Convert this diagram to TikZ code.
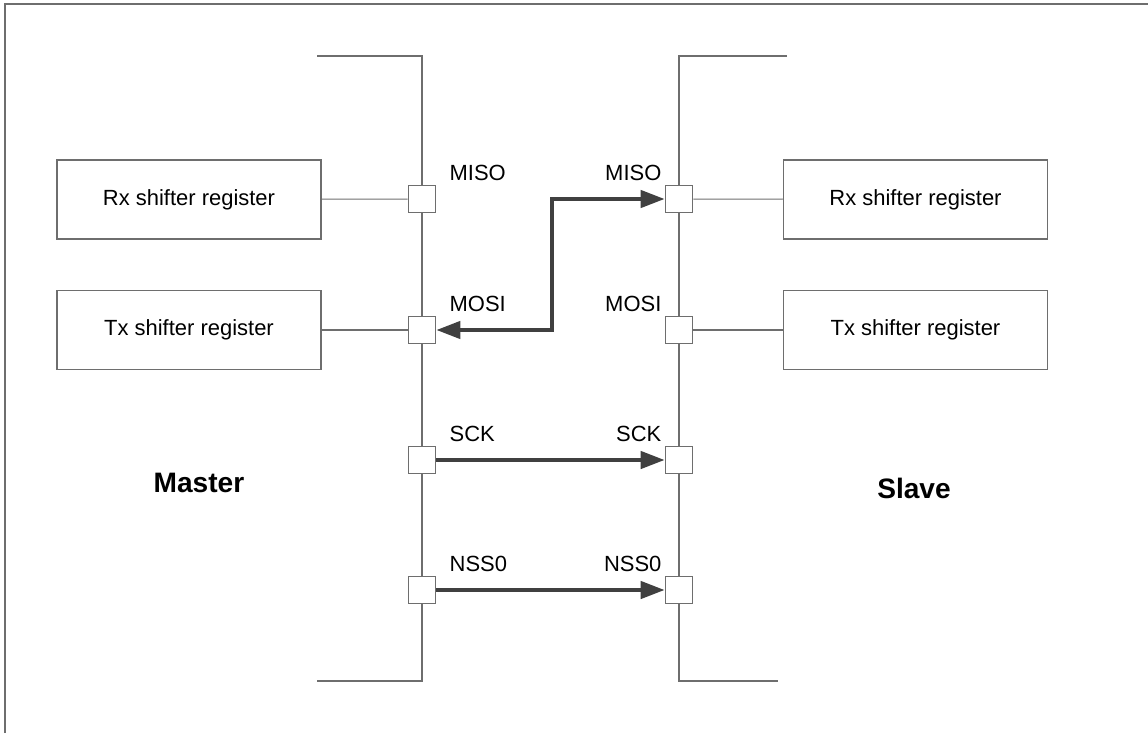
\documentclass[tikz,border=0pt]{standalone}
\usepackage{fontspec}
\setmainfont{Liberation Sans}
\usetikzlibrary{arrows.meta,positioning}
\definecolor{linegray}{HTML}{6E6E6E}
\definecolor{arrowgray}{HTML}{404040}
\begin{document}
\begin{tikzpicture}[x=0.02cm,y=-0.02cm,font=\fontsize{12.5}{15}\selectfont]
  \tikzset{
    frame/.style={draw=linegray,line width=1.1pt},
    bus/.style={draw=linegray,line width=1.1pt},
    reg/.style={draw=linegray,line width=0.9pt,fill=white,minimum width=5.28cm,
                minimum height=1.58cm,inner sep=0pt},
    port/.style={draw=linegray,line width=0.9pt,fill=white,minimum size=0.54cm,inner sep=0pt},
    link/.style={draw=linegray,line width=0.6pt},
    ar/.style={-{Triangle[length=0.48cm,width=0.34cm]},line width=2.4pt,draw=arrowgray},
    dar/.style={ar,{Triangle[length=0.48cm,width=0.34cm]}-{Triangle[length=0.48cm,width=0.34cm]}},
    pin/.style={inner sep=0pt},
    side/.style={font=\fontsize{16}{19}\selectfont\bfseries}
  }
  \useasboundingbox (0,0) rectangle (1148,733);
  \draw[frame] (5,733) -- (5,4) -- (1148,4);

  % buses
  \coordinate (mtop) at (317,56);
  \coordinate (mbot) at (317,681);
  \coordinate (stop) at (787,56);
  \coordinate (sbot) at (778,681);
  \draw[bus] (mtop) -- (422,56) -- (422,681) -- (mbot);
  \draw[bus] (stop) -- (679,56) -- (679,681) -- (sbot);

  % shift registers
  \node[reg] (mrx) at (189,199.5) {Rx shifter register};
  \node[reg] (mtx) at (189,330) {Tx shifter register};
  \node[reg] (srx) at (915.5,199.5) {Rx shifter register};
  \node[reg] (stx) at (915.5,330) {Tx shifter register};

  % master pins
  \node[port] (mmiso) at (422,199) {};
  \node[port] (mmosi) at (422,330) {};
  \node[port] (msck) at (422,460) {};
  \node[port] (mnss) at (422,590) {};
  % slave pins
  \node[port] (smiso) at (679,199) {};
  \node[port] (smosi) at (679,330) {};
  \node[port] (ssck) at (679,460) {};
  \node[port] (snss) at (679,590) {};

  \node[pin,anchor=base west,xshift=0.26cm,yshift=0.08cm] (lmmiso) at (mmiso.north east) {MISO};
  \node[pin,anchor=base west,xshift=0.26cm,yshift=0.08cm] (lmmosi) at (mmosi.north east) {MOSI};
  \node[pin,anchor=base west,xshift=0.26cm,yshift=0.08cm] (lmsck) at (msck.north east) {SCK};
  \node[pin,anchor=base west,xshift=0.26cm,yshift=0.08cm] (lmnss) at (mnss.north east) {NSS0};
  \node[pin,anchor=base east,xshift=-0.06cm,yshift=0.08cm] (lsmiso) at (smiso.north west) {MISO};
  \node[pin,anchor=base east,xshift=-0.06cm,yshift=0.08cm] (lsmosi) at (smosi.north west) {MOSI};
  \node[pin,anchor=base east,xshift=-0.06cm,yshift=0.08cm] (lssck) at (ssck.north west) {SCK};
  \node[pin,anchor=base east,xshift=-0.06cm,yshift=0.08cm] (lsnss) at (snss.north west) {NSS0};

  \node[side] (master) at (199,483) {Master};
  \node[side] (slave) at (914,488) {Slave};

  \draw[link] (mrx) -- (mmiso);
  \draw[link] (mtx) -- (mmosi);
  \draw[link] (smiso) -- (srx);
  \draw[link] (smosi) -- (stx);

  \coordinate (bend) at (552,330);
  \draw[dar] (mmosi) -- (bend) |- (smiso);
  \draw[ar] (msck) -- (ssck);
  \draw[ar] (mnss) -- (snss);
\end{tikzpicture}
\end{document}
